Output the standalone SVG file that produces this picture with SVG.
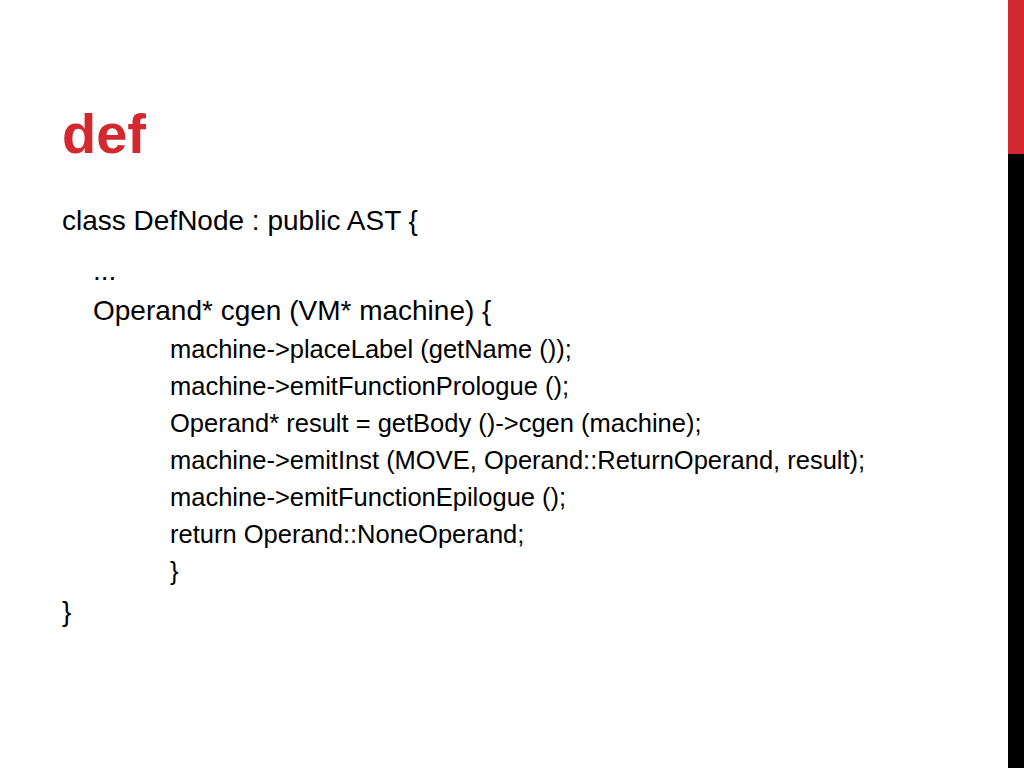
<svg xmlns="http://www.w3.org/2000/svg" width="1024" height="768" viewBox="0 0 1024 768">
<style>
.t{font-family:"Liberation Sans",Arial,sans-serif;fill:#000}
.l1{font-size:28px}
.l2{font-size:25.5px}
.title{font-family:"Liberation Sans",Arial,sans-serif;font-weight:bold;font-size:56px;fill:#d2282e}
</style>
<rect x="0" y="0" width="1024" height="768" fill="#fff"/>
<g id="sidebar">
<rect x="1008" y="0" width="16" height="154" fill="#d2282e"/>
<rect x="1008" y="154" width="16" height="614" fill="#000"/>
</g>
<g id="title"><text class="title" x="62" y="153">def</text></g>
<g id="body">
<text class="t l1" x="62" y="230">class DefNode : public AST {</text>
<text class="t l1" x="93" y="280">...</text>
<text class="t l1" x="93" y="320">Operand* cgen (VM* machine) {</text>
<text class="t l2" x="170" y="358">machine-&gt;placeLabel (getName ());</text>
<text class="t l2" x="170" y="395">machine-&gt;emitFunctionPrologue ();</text>
<text class="t l2" x="170" y="432">Operand* result = getBody ()-&gt;cgen (machine);</text>
<text class="t l2" x="170" y="469">machine-&gt;emitInst (MOVE, Operand::ReturnOperand, result);</text>
<text class="t l2" x="170" y="506">machine-&gt;emitFunctionEpilogue ();</text>
<text class="t l2" x="170" y="543">return Operand::NoneOperand;</text>
<text class="t l2" x="170" y="580">}</text>
<text class="t l1" x="62" y="621">}</text>
</g>
</svg>
